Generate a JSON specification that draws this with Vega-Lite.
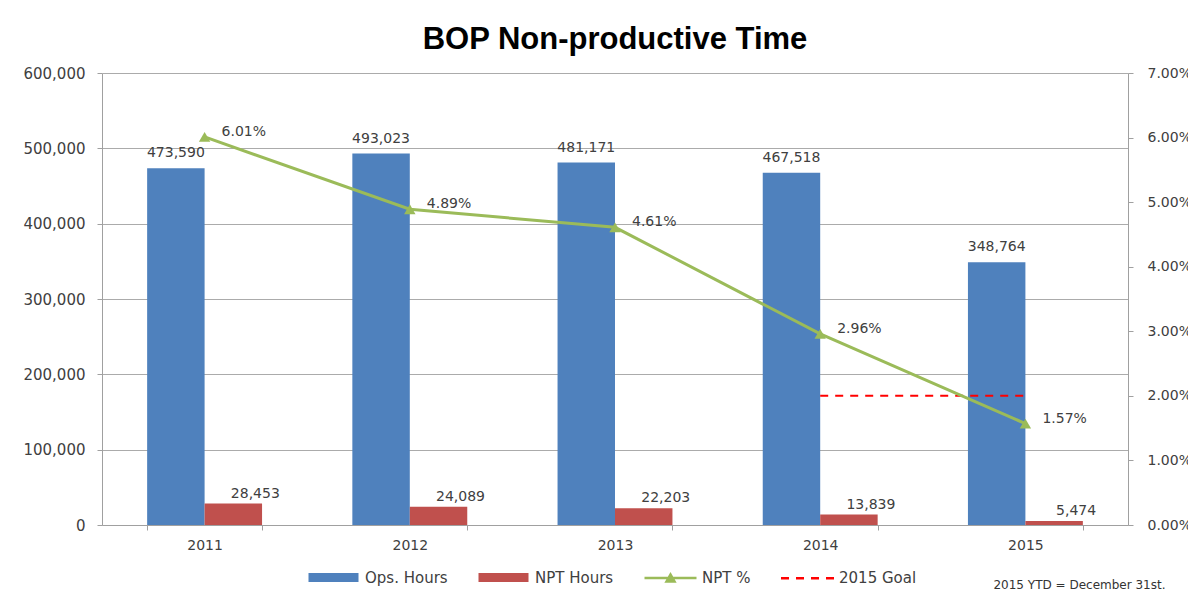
{
  "$schema": "https://vega.github.io/schema/vega-lite/v6.json",
  "width": 1026,
  "height": 452,
  "autosize": {"type": "none"},
  "padding": {"left": 102, "top": 73, "right": 60, "bottom": 73},
  "background": "white",
  "config": {
    "view": {"stroke": null},
    "font": "DejaVu Sans",
    "axis": {
      "labelFont": "DejaVu Sans",
      "labelFontSize": 14,
      "labelColor": "#404040",
      "domainColor": "#A0A0A0",
      "tickColor": "#A0A0A0",
      "gridColor": "#ABABAB",
      "tickSize": 5
    }
  },
  "title": {
    "text": "BOP Non-productive Time",
    "font": "Liberation Sans",
    "fontSize": 31,
    "fontWeight": "bold",
    "color": "#000000",
    "anchor": "middle",
    "baseline": "alphabetic",
    "offset": -14
  },
  "datasets": {
    "hours": [
      {"year": "2011", "series": "Ops. Hours", "hours": 473590},
      {"year": "2011", "series": "NPT Hours", "hours": 28453},
      {"year": "2012", "series": "Ops. Hours", "hours": 493023},
      {"year": "2012", "series": "NPT Hours", "hours": 24089},
      {"year": "2013", "series": "Ops. Hours", "hours": 481171},
      {"year": "2013", "series": "NPT Hours", "hours": 22203},
      {"year": "2014", "series": "Ops. Hours", "hours": 467518},
      {"year": "2014", "series": "NPT Hours", "hours": 13839},
      {"year": "2015", "series": "Ops. Hours", "hours": 348764},
      {"year": "2015", "series": "NPT Hours", "hours": 5474}
    ],
    "pct": [
      {"year": "2011", "rate": 0.0601},
      {"year": "2012", "rate": 0.0489},
      {"year": "2013", "rate": 0.0461},
      {"year": "2014", "rate": 0.0296},
      {"year": "2015", "rate": 0.0157}
    ],
    "goal": [
      {"year": "2014", "rate": 0.02},
      {"year": "2015", "rate": 0.02}
    ]
  },
  "encoding": {
    "x": {
      "field": "year",
      "type": "nominal",
      "scale": {"paddingInner": 0.44, "paddingOuter": 0.22},
      "axis": {
        "title": "2015 YTD = December 31st.",
        "titleX": 1063,
        "titleY": 63,
        "titleAlign": "right",
        "titleBaseline": "alphabetic",
        "titleFont": "DejaVu Sans",
        "titleFontSize": 12,
        "titleFontWeight": "normal",
        "titleColor": "#333333",
        "labelAngle": 0,
        "tickBand": "extent",
        "labelPadding": 8,
        "grid": false
      }
    }
  },
  "layer": [
    {
      "data": {"name": "hours"},
      "encoding": {
        "y": {
          "field": "hours",
          "type": "quantitative",
          "scale": {"domain": [0, 600000], "nice": false},
          "axis": {
            "title": null,
            "values": [0, 100000, 200000, 300000, 400000, 500000, 600000],
            "format": ",.0f",
            "grid": true,
            "labelFontSize": 15,
            "labelPadding": 12
          }
        },
        "xOffset": {
          "field": "series",
          "type": "nominal",
          "scale": {"domain": ["Ops. Hours", "NPT Hours"], "paddingInner": 0, "paddingOuter": 0}
        }
      },
      "layer": [
        {
          "mark": {"type": "bar"},
          "encoding": {
            "color": {
              "field": "series",
              "type": "nominal",
              "scale": {
                "domain": ["Ops. Hours", "NPT Hours", "NPT %", "2015 Goal"],
                "range": ["#4F81BD", "#C0504D", "#9BBB59", "#FF0000"]
              },
              "legend": {
                "orient": "none",
                "legendX": 204,
                "legendY": 497,
                "direction": "horizontal",
                "title": null,
                "padding": 0,
                "symbolSize": 100,
                "symbolOffset": 20,
                "labelOffset": 24,
                "columnPadding": 25,
                "labelFont": "DejaVu Sans",
                "labelFontSize": 15,
                "labelColor": "#404040",
                "encode": {
                  "symbols": {
                    "update": {
                      "shape": {"signal": "datum.value === 'Ops. Hours' || datum.value === 'NPT Hours' ? 'M-5,-0.9H5V0.9H-5Z' : datum.value === 'NPT %' ? 'M-5.2,0H5.2M-0.8,0.7L0,-0.7L0.8,0.7Z' : 'M-5.3,0H-3.7M-2.3,0H-0.7M0.7,0H2.3M3.7,0H5.3'"},
                      "fill": {"signal": "datum.value === 'Ops. Hours' ? '#4F81BD' : datum.value === 'NPT Hours' ? '#C0504D' : datum.value === 'NPT %' ? '#9BBB59' : 'transparent'"},
                      "stroke": {"signal": "datum.value === 'NPT %' ? '#9BBB59' : datum.value === '2015 Goal' ? '#FF0000' : 'transparent'"},
                      "strokeWidth": {"value": 2.5},
                      "opacity": {"value": 1}
                    }
                  }
                }
              }
            }
          }
        },
        {
          "transform": [{"filter": "datum.series === 'Ops. Hours'"}],
          "mark": {"type": "text", "dy": -11, "baseline": "alphabetic", "align": "center", "font": "DejaVu Sans", "fontSize": 14, "color": "#404040"},
          "encoding": {"text": {"field": "hours", "type": "quantitative", "format": ","}}
        },
        {
          "transform": [{"filter": "datum.series === 'NPT Hours'"}],
          "mark": {"type": "text", "dx": 22, "dy": -6, "baseline": "alphabetic", "align": "center", "font": "DejaVu Sans", "fontSize": 14, "color": "#404040"},
          "encoding": {"text": {"field": "hours", "type": "quantitative", "format": ","}}
        }
      ]
    },
    {
      "encoding": {
        "y": {
          "field": "rate",
          "type": "quantitative",
          "scale": {"domain": [0, 0.07], "nice": false},
          "axis": {
            "orient": "right",
            "title": null,
            "values": [0, 0.01, 0.02, 0.03, 0.04, 0.05, 0.06, 0.07],
            "format": ".2%",
            "grid": false,
            "labelPadding": 14
          }
        }
      },
      "layer": [
        {
          "data": {"name": "goal"},
          "mark": {"type": "line", "color": "#FF0000", "strokeWidth": 2, "strokeDash": [8, 7]},
          "encoding": {}
        },
        {
          "data": {"name": "pct"},
          "mark": {"type": "line", "color": "#9BBB59", "strokeWidth": 3},
          "encoding": {}
        },
        {
          "data": {"name": "pct"},
          "mark": {"type": "point", "shape": "triangle-up", "filled": true, "size": 130, "color": "#9BBB59", "opacity": 1},
          "encoding": {}
        },
        {
          "data": {"name": "pct"},
          "mark": {"type": "text", "dx": 17, "dy": -5, "align": "left", "baseline": "middle", "font": "DejaVu Sans", "fontSize": 14, "color": "#404040"},
          "encoding": {"text": {"field": "rate", "type": "quantitative", "format": ".2%"}}
        }
      ]
    }
  ],
  "resolve": {"scale": {"y": "independent"}}
}
